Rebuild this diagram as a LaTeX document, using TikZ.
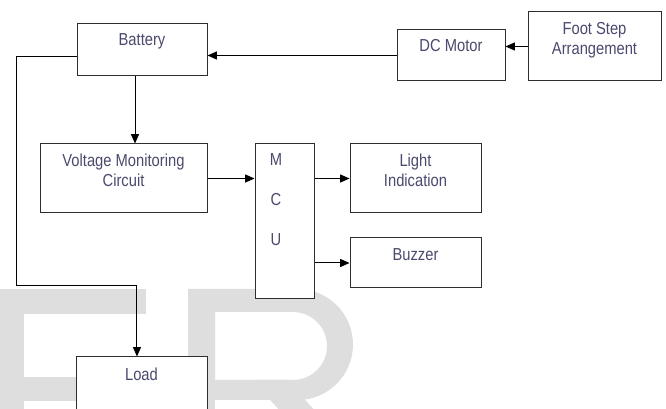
\documentclass[tikz,border=0pt]{standalone}
\usepackage{fontspec}
\setmainfont[FakeStretch=0.85]{Liberation Sans}
\usetikzlibrary{positioning,arrows.meta}
\definecolor{FSLine}{HTML}{2E2E2E}
\definecolor{FSText}{HTML}{4A4A6E}
\definecolor{FSMark}{HTML}{DEDEDE}
\tikzset{
  blk/.style={draw=FSLine,fill=white,line width=.75pt,inner sep=0pt},
  lbl/.style={text=FSText,font=\fontsize{13}{15}\selectfont,align=center,inner sep=0pt},
  wire/.style={line width=.75pt,-{Triangle[length=7pt,width=6pt]}}
}
\begin{document}
\begin{tikzpicture}[x=0.75pt,y=0.75pt]
\path[use as bounding box] (0,0) rectangle (666,409);
\clip (0,0) rectangle (666,409);
\fill[white] (0,0) rectangle (666,409);
% watermark letters
\fill[FSMark] (0,0) rectangle (24,120);
\fill[FSMark] (0,95) rectangle (146,120);
\fill[FSMark] (0,8) rectangle (138,32);
\fill[FSMark] (188,0) rectangle (215,120);
\fill[FSMark,even odd rule] (188,120) -- (297.5,120) arc[start angle=90,end angle=-90,radius=55.5] -- (188,9) -- cycle
  (215,97) -- (293,97) arc[start angle=90,end angle=-90,radius=34] -- (215,29) -- cycle;
\fill[FSMark] (252,29) -- (287,29) -- (327,-15) -- (292,-15) -- cycle;
% blocks
\node[blk,minimum width=97.5pt,minimum height=39pt] (bat) at (142,359) {};
\node[lbl,below=7.7pt of bat.north] (batT) {Battery};
\node[blk,minimum width=81pt,minimum height=38.25pt] (dcm) at (451,353.5) {};
\node[lbl,below=7.2pt of dcm.north] (dcmT) {DC Motor};
\node[blk,minimum width=99.75pt,minimum height=51.75pt] (foot) at (594.5,362.5) {};
\node[lbl,below=7.7pt of foot.north] (footT) {Foot Step\\Arrangement};
\node[blk,minimum width=125.25pt,minimum height=51.75pt] (vmc) at (123.5,230.5) {};
\node[lbl,below=7.5pt of vmc.north] (vmcT) {Voltage Monitoring\\Circuit};
\node[blk,minimum width=44.25pt,minimum height=116.25pt] (mcu) at (284.5,187.5) {};
\node[lbl,below=7.5pt of mcu.north,xshift=-6.4pt] (mcuT) {M\\[15pt]C\\[15pt]U};
\node[blk,minimum width=98.25pt,minimum height=51.75pt] (light) at (415.5,230.5) {};
\node[lbl,below=7.5pt of light.north] (lightT) {Light\\Indication};
\node[blk,minimum width=98.25pt,minimum height=37.5pt] (buz) at (415.5,146) {};
\node[lbl,below=7.9pt of buz.north] (buzT) {Buzzer};
\node[blk,minimum width=98.25pt,minimum height=51.75pt] (load) at (141.5,17.5) {};
\node[lbl,below=8.5pt of load.north] (loadT) {Load};
% connectors
\coordinate (batS) at ([xshift=-5.25pt]bat.south);
\coordinate (batW) at ([yshift=-5.25pt]bat.west);
\coordinate (loadN) at ([xshift=-3.4pt]load.north);
\coordinate (bend) at (16,123);
\draw[wire] (batS) -- (batS |- vmc.north);
\draw[wire] (batW) -| (bend) -| (loadN);
\draw[wire] (foot.west) -- (foot.west -| dcm.east);
\draw[wire] (dcm.west) -- (dcm.west -| bat.east);
\draw[wire] (vmc.east) -- (vmc.east -| mcu.west);
\draw[wire] (mcu.east |- light.west) -- (light.west);
\draw[wire] (mcu.east |- buz.west) -- (buz.west);
\end{tikzpicture}
\end{document}
